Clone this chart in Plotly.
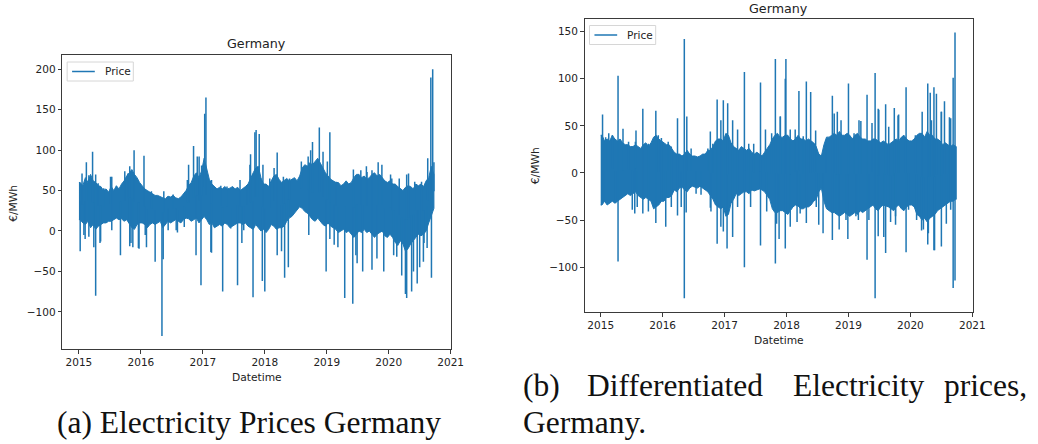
import plotly.graph_objects as go

# ---------------- data (time in decimal years) ----------------
START_A, END_A = 2015.0, 2020.73
START_B, END_B = 2015.0, 2020.74

# (a) price level: half-monthly upper / lower edge of the dense band, Jan 2015 .. Sep 2020
band_hi_a = [60, 56, 66, 60, 70, 62, 60, 56, 55, 50, 52, 48, 55, 50, 56, 52, 58, 62, 68, 72, 76, 70, 66, 60,
             56, 52, 50, 48, 46, 44, 44, 42, 41, 40, 43, 42, 44, 41, 40, 42, 46, 50, 56, 60, 68, 72, 66, 74,
             90, 75, 64, 58, 55, 52, 54, 52, 55, 52, 53, 55, 52, 54, 50, 52, 55, 58, 66, 72, 78, 80, 66, 58,
             58, 55, 62, 68, 70, 64, 60, 62, 65, 62, 64, 66, 62, 68, 78, 82, 80, 84, 82, 86, 90, 84, 78, 72,
             68, 64, 62, 60, 60, 56, 58, 62, 58, 60, 66, 70, 70, 66, 68, 64, 66, 70, 72, 68, 70, 66, 62, 60,
             62, 58, 58, 55, 52, 50, 54, 56, 55, 52, 58, 56, 58, 55, 62, 66, 80, 70]
band_lo_a = [14, 10, 8, 12, 4, 8, 2, 6, 8, 10, 10, 12, 12, 14, 16, 14, 15, 12, 14, 10, 4, 2, 8, 10,
             10, 8, 4, 8, 10, 8, 10, 12, 4, 8, 12, 10, 12, 14, 12, 10, 14, 16, 15, 12, 14, 16, 10, 14,
             18, 14, 8, 10, 4, 6, 8, 6, 10, 8, 4, 6, 8, 10, 10, 8, 10, 6, 4, 2, 8, 4, 0, 2,
             -2, 2, 8, 6, 2, 4, 4, 6, 12, 16, 18, 22, 26, 30, 28, 24, 22, 18, 14, 12, 16, 12, 8, 6,
             10, 6, 4, 2, -2, 0, 2, -2, 0, -4, -8, -4, 0, -2, 2, -2, 0, -4, -8, -4, -2, 0, -6, -8,
             -4, -8, -14, -18, -12, -16, -25, -22, -16, -12, -8, -4, -6, -4, 0, 10, 20, 28]

# (a) large spikes
spike_t_a = [2015.12, 2015.22, 2015.27, 2015.53, 2015.82, 2015.89, 2016.05, 2016.77,
             2016.85, 2016.94, 2017.03, 2017.05, 2017.77, 2017.84, 2017.86, 2017.91,
             2018.20, 2018.71, 2018.77, 2018.88, 2019.05, 2019.43, 2019.64, 2019.83,
             2020.03, 2020.29, 2020.63, 2020.68, 2020.71, 2020.73,
             2015.02, 2015.10, 2015.24, 2015.27, 2015.34, 2015.67, 2015.84, 2015.87,
             2015.97, 2016.09, 2016.23, 2016.34, 2016.36, 2016.59, 2016.89, 2016.97,
             2017.14, 2017.32, 2017.56, 2017.63, 2017.81, 2017.96, 2018.00, 2018.20,
             2018.32, 2018.38, 2018.71, 2018.99, 2019.18, 2019.29, 2019.42, 2019.49,
             2019.58, 2019.73, 2019.92, 2020.21, 2020.27, 2020.29, 2020.37, 2020.40,
             2020.46, 2020.50, 2020.57, 2020.69]
spike_v_a = [85, 98, 70, 67, 80, 100, 93, 82,
             105, 92, 145, 165, 95, 122, 125, 120,
             97, 85, 110, 128, 122, 76, 80, 85,
             70, 70, 90, 190, 200, 85,
             -25, -10, -20, -80, -15, -30, -15, -20,
             -22, -20, -38, -130, -35, -2, -30, -67,
             -27, -75, -67, -15, -82, -62, -75, -30,
             -58, -45, -5, -50, -20, -83, -90, -40,
             -50, -48, -50, -55, -78, -83, -75, -50,
             -65, -45, -15, -58]
# (a) smaller spikes along the edge of the band
fringe_t_a = [2015.05, 2015.16, 2015.31, 2015.40, 2015.51, 2015.74, 2015.79, 2016.17, 2016.37, 2016.52,
              2016.75, 2016.91, 2016.98, 2017.14, 2017.29, 2017.39, 2017.60, 2017.71, 2017.76, 2017.97,
              2018.08, 2018.15, 2018.30, 2018.40, 2018.59, 2018.70, 2018.74, 2018.94, 2019.01, 2019.15,
              2019.55, 2019.65, 2019.73, 2019.89, 2020.05, 2020.17, 2020.32, 2020.42, 2020.53,
              2015.08, 2015.16, 2015.35, 2015.53, 2015.82, 2015.96, 2016.07, 2016.44, 2016.57, 2016.70,
              2017.13, 2017.45, 2017.66, 2018.27, 2019.05, 2019.12, 2019.47, 2019.81, 2020.08, 2020.13,
              2020.56, 2020.62]
fringe_v_a = [71, 69, 59, 53, 67, 74, 71, 49, 49, 45,
              63, 92, 81, 63, 56, 55, 63, 57, 82, 82,
              65, 78, 67, 65, 86, 92, 100, 98, 86, 61,
              75, 73, 75, 82, 65, 65, 71, 61, 61,
              -5, -7, -13, 1, -19, -21, -5, 1, 1, 5,
              -26, 3, 1, -25, -10, -17, -30, -34, -30, -32,
              -38, -21]

# (b) differentiated prices: half-monthly upper / lower edge of the dense band
band_hi_b = [40, 34, 36, 34, 40, 36, 34, 36, 32, 30, 30, 28, 28, 30, 28, 26, 30, 32, 28, 32, 38, 40, 36, 34,
             32, 30, 30, 26, 22, 20, 20, 18, 20, 24, 20, 18, 18, 17, 18, 20, 20, 24, 24, 28, 34, 36, 36, 34,
             42, 40, 32, 28, 26, 24, 28, 26, 24, 26, 22, 20, 22, 20, 18, 22, 26, 30, 36, 40, 42, 38, 38, 40,
             40, 36, 34, 36, 40, 36, 36, 34, 36, 34, 32, 28, 20, 18, 30, 38, 38, 40, 42, 40, 44, 40, 40, 42,
             40, 36, 40, 42, 38, 36, 36, 34, 34, 36, 36, 34, 32, 34, 32, 30, 32, 34, 36, 34, 38, 40, 36, 34,
             34, 36, 40, 42, 42, 38, 44, 40, 40, 36, 36, 34, 30, 32, 30, 28, 30, 28]
band_lo_b = [-34, -30, -34, -32, -30, -32, -30, -28, -26, -24, -22, -24, -22, -20, -24, -26, -28, -26, -28, -30, -38, -36, -34, -30,
             -30, -26, -26, -24, -18, -20, -16, -15, -18, -20, -16, -14, -15, -16, -14, -16, -18, -20, -24, -28, -34, -36, -38, -36,
             -46, -44, -32, -28, -22, -24, -22, -20, -20, -22, -18, -19, -18, -17, -18, -20, -24, -28, -38, -42, -42, -40, -40, -42,
             -44, -40, -36, -34, -35, -38, -38, -36, -36, -34, -30, -28, -20, -16, -30, -38, -40, -42, -42, -44, -46, -44, -42, -44,
             -46, -44, -42, -44, -40, -42, -40, -38, -36, -34, -38, -40, -36, -34, -35, -36, -38, -40, -36, -34, -38, -40, -36, -34,
             -34, -36, -44, -46, -50, -48, -52, -48, -46, -44, -40, -38, -36, -34, -32, -30, -30, -28]

spike_t_b = [2015.03, 2015.28, 2015.36, 2015.57, 2015.68, 2015.89, 2016.24, 2016.35,
             2016.39, 2016.77, 2016.88, 2016.98, 2017.05, 2017.32, 2017.58, 2017.82,
             2017.98, 2017.99, 2017.90, 2018.20, 2018.32, 2018.39, 2018.47, 2018.74,
             2018.82, 2019.00, 2019.20, 2019.30, 2019.43, 2019.48, 2019.60, 2019.74,
             2019.81, 2019.93, 2020.28, 2020.32, 2020.38, 2020.50, 2020.55, 2020.63,
             2020.69, 2020.72,
             2015.02, 2015.28, 2015.55, 2015.68, 2015.89, 2016.05, 2016.24, 2016.35,
             2016.38, 2016.77, 2016.88, 2016.98, 2017.04, 2017.32, 2017.58, 2017.82,
             2017.88, 2017.98, 2018.17, 2018.32, 2018.52, 2018.74, 2018.85, 2018.99,
             2019.16, 2019.30, 2019.43, 2019.48, 2019.60, 2019.76, 2019.93, 2020.21,
             2020.28, 2020.38, 2020.50, 2020.69, 2020.72]
spike_v_b = [62, 103, 47, 45, 68, 66, 58, 142,
             60, 44, 78, 77, 74, 107, 96, 121,
             100, 121, 60, 87, 97, 86, 45, 82,
             65, 95, 55, 83, 106, 68, 73, 69,
             62, 91, 95, 85, 91, 65, 76, 59,
             101, 149,
             -32, -94, -43, -43, -53, -57, -45, -133,
             -42, -37, -75, -62, -80, -100, -77, -96,
             -70, -80, -52, -53, -55, -71, -60, -70,
             -50, -92, -133, -67, -85, -55, -84, -60,
             -76, -82, -78, -122, -114]
fringe_t_b = [2015.08, 2015.13, 2015.19, 2015.45, 2015.56, 2015.77, 2015.93, 2015.98, 2016.09, 2016.14,
              2016.46, 2016.73, 2016.81, 2016.94, 2017.13, 2017.21, 2017.39, 2017.47, 2017.66, 2017.76,
              2017.90, 2018.06, 2018.14, 2018.27, 2018.45, 2018.64, 2018.77, 2018.88, 2019.09, 2019.17,
              2019.38, 2019.49, 2019.65, 2019.80, 2019.92, 2020.08, 2020.19, 2020.34, 2020.42, 2020.50,
              2020.65,
              2015.05, 2015.24, 2015.51, 2015.59, 2015.77, 2015.98, 2016.14, 2016.30, 2016.54, 2016.62,
              2016.78, 2016.94, 2017.13, 2017.21, 2017.42, 2017.68, 2017.84, 2018.06, 2018.22, 2018.48,
              2018.59, 2018.80, 2018.96, 2019.12, 2019.33, 2019.57, 2019.68, 2019.76, 2019.97, 2020.10,
              2020.18, 2020.29, 2020.39, 2020.58, 2020.65]
fringe_v_b = [38, 42, 40, 33, 33, 31, 40, 37, 33, 28,
              26, 26, 31, 56, 56, 46, 31, 31, 46, 42,
              60, 46, 46, 39, 31, 35, 63, 56, 42, 56,
              53, 67, 49, 61, 33, 40, 65, 56, 84, 65,
              58,
              -30, -32, -39, -36, -41, -30, -36, -36, -22, -23,
              -41, -57, -68, -36, -36, -41, -54, -57, -43, -36,
              -64, -43, -50, -46, -50, -68, -52, -46, -39, -50,
              -61, -64, -82, -54, -39]

year_ticks = [2015, 2016, 2017, 2018, 2019, 2020, 2021]
yticks_a = [-100, -50, 0, 50, 100, 150, 200]
yticks_b = [-100, -50, 0, 50, 100, 150]

BLUE = "#1f77b4"
FONT = "DejaVu Sans"
W, H = 1038, 444


def band_polygon(hi, lo, start, end):
    t = [start] + [2015 + (i + 0.5) / 24 for i in range(len(hi))] + [end]
    h = [hi[0]] + hi + [hi[-1]]
    l = [lo[0]] + lo + [lo[-1]]
    return t + t[::-1], h + l[::-1]


def spike_segments(ts, vs, hi, lo):
    xs, ys = [], []
    for t, v in zip(ts, vs):
        i = min(max(int((t - 2015) * 24), 0), len(hi) - 1)
        base = (hi[i] + lo[i]) / 2
        xs += [t, t, None]
        ys += [base, v, None]
    return xs, ys


def minus(v):
    return str(v).replace("-", "\u2212")


fig = go.Figure()

panels = [
    ("x", "y", band_hi_a, band_lo_a, START_A, END_A, spike_t_a + fringe_t_a, spike_v_a + fringe_v_a),
    ("x2", "y2", band_hi_b, band_lo_b, START_B, END_B, spike_t_b + fringe_t_b, spike_v_b + fringe_v_b),
]
for xa, ya, hi, lo, s, e, st, sv in panels:
    px, py = band_polygon(hi, lo, s, e)
    fig.add_trace(go.Scatter(x=px, y=py, fill="toself", fillcolor=BLUE, mode="lines",
                             line=dict(color=BLUE, width=1), showlegend=False,
                             hoverinfo="skip", xaxis=xa, yaxis=ya))
    sx, sy = spike_segments(st, sv, hi, lo)
    fig.add_trace(go.Scatter(x=sx, y=sy, mode="lines", name="Price",
                             line=dict(color=BLUE, width=1.5), xaxis=xa, yaxis=ya,
                             showlegend=False))

axis_common = dict(showgrid=False, zeroline=False, showline=True, mirror=True,
                   linecolor="#3a3a3a", linewidth=1, ticks="outside", ticklen=3.5,
                   tickwidth=1, tickcolor="#3a3a3a",
                   tickfont=dict(family=FONT, size=10.5, color="#222"))


def dom_x(a, b):
    return [a / W, b / W]


def dom_y(top, bottom):
    return [1 - bottom / H, 1 - top / H]


fig.update_layout(
    width=W, height=H, margin=dict(l=0, r=0, t=0, b=0),
    paper_bgcolor="white", plot_bgcolor="white", showlegend=False,
    xaxis=dict(domain=dom_x(63, 457), range=[2014.73, 2021.01], anchor="y",
               tickvals=year_ticks, ticktext=[str(v) for v in year_ticks], **axis_common),
    yaxis=dict(domain=dom_y(55, 349), range=[-146, 217.7], anchor="x",
               tickvals=yticks_a, ticktext=[minus(v) for v in yticks_a], **axis_common),
    xaxis2=dict(domain=dom_x(592, 985), range=[2014.74, 2021.005], anchor="y2",
                tickvals=year_ticks, ticktext=[str(v) for v in year_ticks], **axis_common),
    yaxis2=dict(domain=dom_y(19.3, 312.3), range=[-147.8, 163], anchor="x2",
                tickvals=yticks_b, ticktext=[minus(v) for v in yticks_b], **axis_common),
)

ann = []
shapes = []


def text(x, y, s, size, family=FONT, angle=0, xanchor="center", color="#222"):
    ann.append(dict(x=x / W, y=1 - y / H, xref="paper", yref="paper", text=s,
                    showarrow=False, xanchor=xanchor, yanchor="middle", textangle=angle,
                    font=dict(family=family, size=size, color=color)))


def legend_box(x0, y0, x1, y1):
    shapes.append(dict(type="rect", xref="paper", yref="paper",
                       x0=x0 / W, x1=x1 / W, y0=1 - y1 / H, y1=1 - y0 / H,
                       line=dict(color="#d6d6d6", width=1), fillcolor="rgba(255,255,255,0.8)"))
    ym = (y0 + y1) / 2
    shapes.append(dict(type="line", xref="paper", yref="paper",
                       x0=(x0 + 5) / W, x1=(x0 + 28) / W, y0=1 - ym / H, y1=1 - ym / H,
                       line=dict(color=BLUE, width=1.5)))
    text(x0 + 36, ym, "Price", 10.5, xanchor="left")


legend_box(68, 62, 135, 81)
legend_box(597, 25.5, 664, 44.5)

# panel titles and axis labels
text(260, 44, "Germany", 12.7)
text(260, 377, "Datetime", 10.7)
text(13, 203, "€/MWh", 10.7, angle=-90)
text(788.5, 8.5, "Germany", 12.7)
text(788.5, 340, "Datetime", 10.7)
text(543, 166, "€/MWh", 10.7, angle=-90)

# captions
SERIF = "Liberation Serif"
text(252.5, 422, "(a) Electricity Prices Germany", 31.5, family=SERIF, color="#111")
text(548, 385, "(b)", 31.5, family=SERIF, color="#111")
text(684, 385, "Differentiated", 31.5, family=SERIF, color="#111")
text(869, 385, "Electricity", 31.5, family=SERIF, color="#111")
text(997.5, 385, "prices,", 31.5, family=SERIF, color="#111")
text(528, 422, "Germany.", 31.5, family=SERIF, xanchor="left", color="#111")

fig.update_layout(annotations=ann, shapes=shapes)
fig.write_html("out.html")
